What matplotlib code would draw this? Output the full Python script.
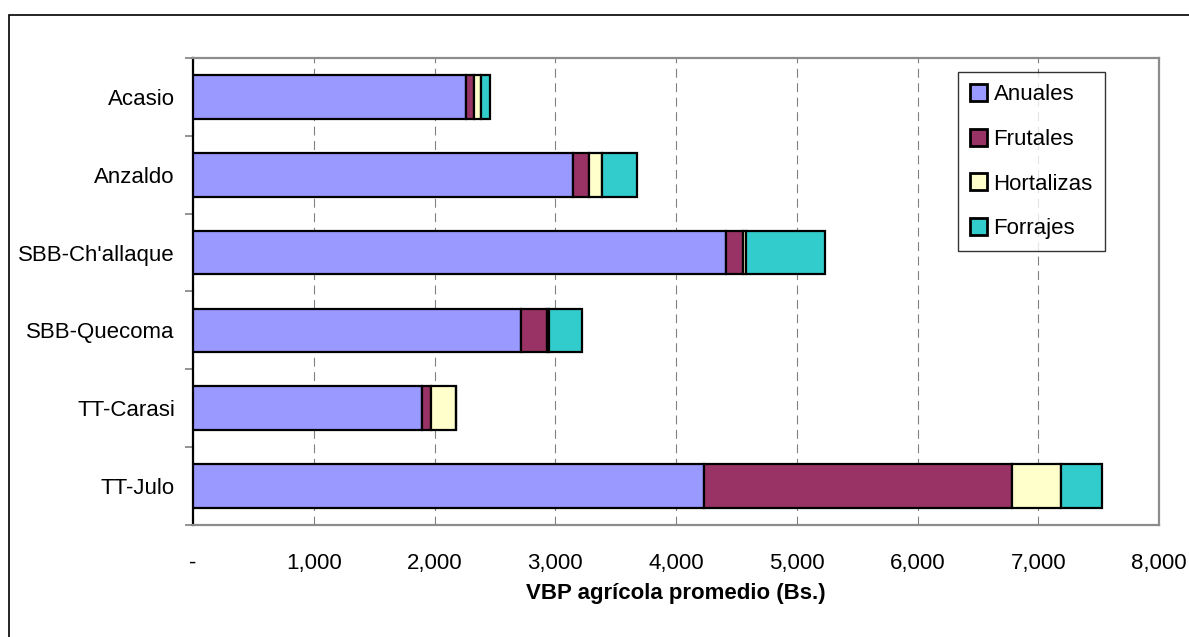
import matplotlib.pyplot as plt
from matplotlib.patches import Rectangle
from matplotlib.ticker import FuncFormatter

plt.rcParams['font.family'] = ['Liberation Sans', 'DejaVu Sans']

# Data
comunidades = ['Acasio', 'Anzaldo', "SBB-Ch'allaque", 'SBB-Quecoma', 'TT-Carasi', 'TT-Julo']
anuales = [2260, 3150, 4410, 2720, 1895, 4235]
frutales = [70, 130, 145, 210, 80, 2548]
hortalizas = [55, 110, 25, 20, 200, 403]
forrajes = [75, 290, 650, 275, 0, 342]

series = [('Anuales', anuales, '#9999FF'),
          ('Frutales', frutales, '#993366'),
          ('Hortalizas', hortalizas, '#FFFFCC'),
          ('Forrajes', forrajes, '#33CCCC')]

W, H = 1189, 637
fig = plt.figure(figsize=(W / 100, H / 100), dpi=100)
ax = fig.add_axes([193 / W, (H - 525) / H, (1159 - 193) / W, (525 - 58) / H])

# stacked horizontal bars
ypos = list(range(len(comunidades)))
left = [0] * len(comunidades)
for name, vals, col in series:
    ax.barh(ypos, vals, left=left, height=0.56, color=col, edgecolor='black',
            linewidth=1.6, label=name, zorder=3)
    left = [a + b for a, b in zip(left, vals)]

ax.set_xlim(0, 8000)
ax.set_ylim(5.5, -0.5)
ax.set_xticks(range(0, 8001, 1000))
ax.xaxis.set_major_formatter(FuncFormatter(lambda v, p: '-' if v == 0 else f'{int(v):,}'))
ax.tick_params(axis='x', length=0, pad=20, labelsize=16)
ax.set_yticks(ypos)
ax.set_yticklabels(comunidades)
ax.tick_params(axis='y', length=0, pad=13, labelsize=16)
ax.set_yticks([i - 0.5 for i in range(len(comunidades) + 1)], minor=True)
ax.tick_params(axis='y', which='minor', length=6, width=1.2, color='#808080')

ax.grid(axis='x', color='#808080', linestyle=(0, (8, 5)), linewidth=0.8, zorder=0)

for s in ['top', 'right', 'bottom']:
    ax.spines[s].set_color('#8c8c8c')
    ax.spines[s].set_linewidth(1.6)
ax.spines['left'].set_color('black')
ax.spines['left'].set_linewidth(1.6)

ax.set_xlabel('VBP agrícola promedio (Bs.)', fontsize=16, fontweight='bold', labelpad=7)

leg = ax.legend(loc='upper left', bbox_to_anchor=(958 / W, 1 - 72 / H),
                bbox_transform=fig.transFigure, borderaxespad=0, fontsize=16,
                frameon=True, fancybox=False, edgecolor='black',
                handlelength=0.75, handleheight=0.8, handletextpad=0.3,
                labelspacing=1.05, borderpad=0.55)
leg.get_frame().set_linewidth(1.0)
for h in leg.legend_handles:
    h.set_linewidth(2.0)
leg.set_zorder(5)

# outer chart frame (partly cut off like the reference)
fig.add_artist(Rectangle((9 / W, -0.05), 1.2, 1 - 15 / H + 0.05, transform=fig.transFigure,
                         fill=False, edgecolor='black', linewidth=1.2))

fig.savefig('out.png', dpi=100, facecolor='white')
